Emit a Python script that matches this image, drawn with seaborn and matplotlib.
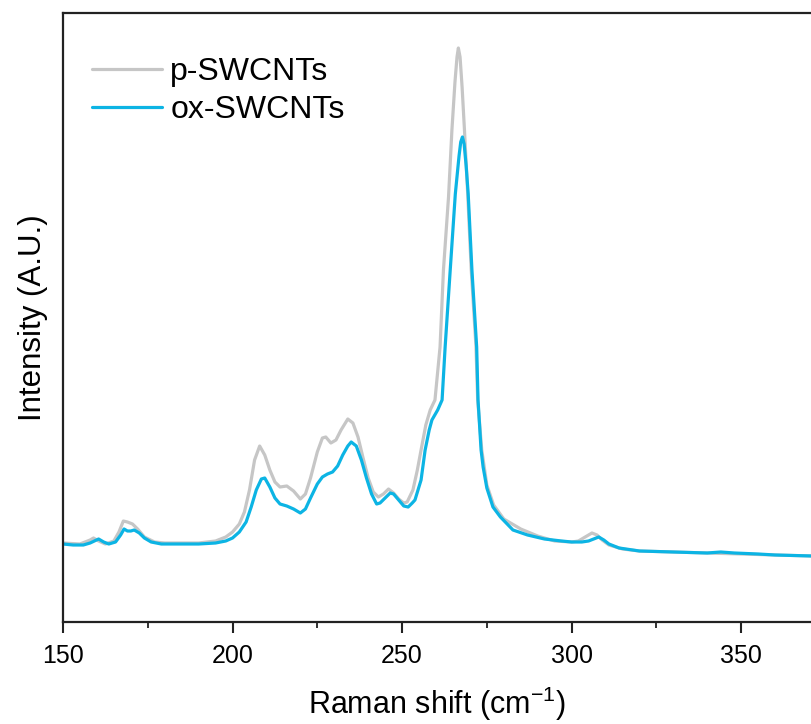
import numpy as np
import pandas as pd
import matplotlib
matplotlib.use("Agg")
import matplotlib.pyplot as plt
from matplotlib.ticker import MultipleLocator
import seaborn as sns

# ---- data (Raman shift in cm^-1, intensity in arbitrary units) ----
p_shift = [150.0, 155.0, 158.0, 159.0, 160.5, 162.5, 165.0, 166.5, 167.8, 169.0,
           170.5, 172.0, 174.0, 177.0, 180.0, 190.0, 195.0, 198.0, 200.0, 202.0,
           203.5, 205.0, 206.5, 208.0, 209.5, 211.0, 212.5, 214.0, 216.0, 218.0,
           220.0, 221.5, 223.0, 225.0, 226.5, 227.5, 229.0, 230.5, 232.0, 234.0,
           235.5, 237.0, 238.5, 240.0, 241.5, 243.0, 244.5, 246.0, 247.5, 249.0,
           250.5, 251.5, 253.2, 254.5, 255.6, 257.0, 258.3, 259.7, 261.2, 262.2,
           263.7, 264.7, 265.6, 266.2, 266.6, 267.1, 267.7, 268.4, 269.4, 270.4,
           271.8, 272.3, 273.5, 275.0, 277.0, 280.0, 285.0,
           290.0, 295.0, 300.0, 302.0, 304.0, 306.0, 307.5, 309.0, 311.0, 315.0,
           320.0, 330.0, 340.0, 350.0, 360.0, 371.0]
p_int = [79, 78, 82, 84, 81, 78, 81, 90, 101, 100,
         98, 93, 85, 80, 79, 79, 81, 85, 90, 98,
         110, 132, 162, 176, 167, 152, 140, 135, 136, 131,
         123, 128, 144, 170, 184, 185, 179, 182, 192, 203,
         199, 185, 164, 144, 130, 125, 128, 133, 129, 123,
         119, 120, 132, 152, 172, 197, 212, 222, 275, 352,
         425, 492, 540, 565, 574, 565, 535, 492, 425, 352,
         275, 222, 172, 137, 117, 103, 93,
         86, 81, 80, 81, 85, 89, 87, 82, 77, 73,
         71, 70, 69, 68, 67, 66]

ox_shift = [150.0, 153.0, 156.0, 158.0, 160.5, 162.0, 163.5, 165.5, 167.0, 168.0,
            169.0, 170.0, 171.0, 172.5, 174.0, 176.0, 179.0, 190.0, 195.0, 198.0,
            200.0, 202.0, 204.0, 205.5, 207.0, 208.5, 209.5, 211.0, 212.5, 214.0,
            216.0, 218.0, 220.0, 221.5, 223.0, 225.0, 226.5, 228.0, 229.5, 231.0,
            232.5, 234.0, 235.0, 236.5, 238.0, 239.5, 241.0, 242.5, 243.5, 245.0,
            246.5, 247.5, 249.0, 250.5, 251.8, 253.0, 253.8, 255.6, 256.8, 258.0,
            258.8, 260.5, 261.8, 262.7, 264.2, 265.7, 266.8, 267.3, 267.8, 268.3,
            268.9, 269.5, 270.6, 272.0, 272.4, 273.3, 273.9, 275.0, 276.8,
            279.0, 282.7, 287.0, 292.0, 297.0, 300.0, 303.0, 305.0, 306.5, 308.0,
            309.5, 311.0, 314.0, 320.0, 330.0, 340.0, 344.0, 348.0, 355.0, 360.0,
            371.0]
ox_int = [78, 77, 77, 79, 83, 80, 78, 80, 87, 93,
          91, 91, 92, 89, 84, 80, 78, 78, 79, 81,
          84, 90, 100, 115, 132, 143, 144, 135, 124, 118,
          116, 113, 109, 113, 124, 138, 145, 148, 150, 156,
          167, 176, 180, 176, 162, 144, 128, 118, 119, 124,
          129, 128, 122, 116, 115, 119, 122, 142, 172, 192,
          202, 212, 222, 275, 352, 428, 466, 480, 485, 478,
          456, 428, 352, 275, 222, 172, 155, 134, 115,
          105, 92, 87, 83, 81, 80, 80, 81, 83, 85,
          82, 78, 74, 71, 70, 69, 70, 69, 68, 67,
          66]

labels = ["p-SWCNTs", "ox-SWCNTs"]
colors = ["#c6c6c6", "#0cb4e4"]

df = pd.concat([
    pd.DataFrame({"shift": p_shift, "intensity": p_int, "sample": labels[0]}),
    pd.DataFrame({"shift": ox_shift, "intensity": ox_int, "sample": labels[1]}),
], ignore_index=True)

sns.set_style("ticks")
plt.rcParams["font.family"] = ["Liberation Sans", "DejaVu Sans"]
plt.rcParams["text.color"] = "black"
plt.rcParams["axes.labelcolor"] = "black"
plt.rcParams["xtick.color"] = "#222222"
plt.rcParams["xtick.labelcolor"] = "black"

fig = plt.figure(figsize=(8.11, 7.24), dpi=100)
ax = fig.add_axes([63 / 811, 1 - 622 / 724, 1 - 63 / 811, (622 - 13) / 724])

sns.lineplot(data=df, x="shift", y="intensity", hue="sample", hue_order=labels,
             palette=dict(zip(labels, colors)), estimator=None, sort=False,
             linewidth=2.3, ax=ax)

ax.set_xlim(150, 370.6)
ax.set_ylim(0, 609)
ax.set_yticks([])
ax.xaxis.set_major_locator(MultipleLocator(50))
ax.xaxis.set_minor_locator(MultipleLocator(25))
ax.tick_params(axis="x", which="major", direction="out", length=8, width=1.5,
               labelsize=18, pad=8)
ax.tick_params(axis="x", which="minor", direction="out", length=4, width=1.3)
for side in ["left", "bottom", "top"]:
    ax.spines[side].set_visible(True)
    ax.spines[side].set_linewidth(1.6)
    ax.spines[side].set_color("#222222")
ax.spines["right"].set_visible(False)

ax.set_xlabel("Raman shift (cm$^{\\mathregular{-1}}$)", fontsize=22, labelpad=12)
ax.set_ylabel("Intensity (A.U.)", fontsize=22.5, labelpad=11)

leg = ax.legend(loc="upper left", frameon=False, fontsize=23, handlelength=2.2,
                handletextpad=0.25, labelspacing=0.25, borderaxespad=0.0,
                borderpad=0.0, bbox_to_anchor=(0.039, 0.928))
for line in leg.get_lines():
    line.set_linewidth(2.3)

fig.savefig("out.png", dpi=100)
